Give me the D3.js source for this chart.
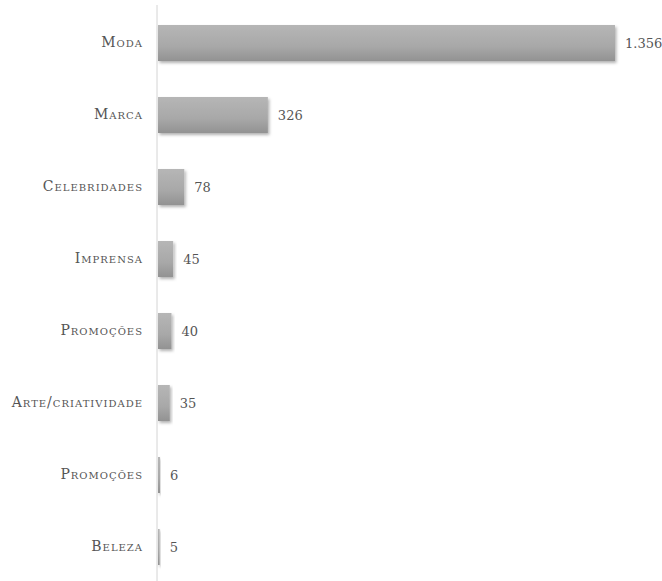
<!DOCTYPE html>
<html>
<head>
<meta charset="utf-8">
<script src="https://cdn.jsdelivr.net/npm/d3@7"></script>
<style>
  html, body { margin: 0; padding: 0; background: #fff; }
  svg { display: block; }
</style>
</head>
<body>
<svg id="chart" width="662" height="581"></svg>
<script>
// Categories and counts, top to bottom
const categories = ["Moda", "Marca", "Celebridades", "Imprensa", "Promoções", "Arte/criatividade", "Promoções ", "Beleza"];
const values = [1356, 326, 78, 45, 40, 35, 6, 5];
const valueLabels = ["1.356", "326", "78", "45", "40", "35", "6", "5"];

const svg = d3.select("#chart");
const width = 662, height = 581;
const margin = { left: 158, right: 47, top: 7, bottom: -2 };

const x = d3.scaleLinear()
  .domain([0, d3.max(values)])
  .range([margin.left, width - margin.right]);

const y = d3.scaleBand()
  .domain(categories)
  .range([margin.top, height - margin.bottom])
  .paddingInner(0.5)
  .paddingOuter(0.25);

const defs = svg.append("defs");
const grad = defs.append("linearGradient")
  .attr("id", "barGrad").attr("x1", 0).attr("y1", 0).attr("x2", 0).attr("y2", 1);
grad.append("stop").attr("offset", "0%").attr("stop-color", "#b6b6b6");
grad.append("stop").attr("offset", "60%").attr("stop-color", "#a8a8a8");
grad.append("stop").attr("offset", "100%").attr("stop-color", "#929292");

const shadow = defs.append("filter").attr("id", "shadow")
  .attr("x", "-20%").attr("y", "-20%").attr("width", "140%").attr("height", "160%");
shadow.append("feDropShadow")
  .attr("dx", 1.5).attr("dy", 2).attr("stdDeviation", 1.6)
  .attr("flood-color", "#000").attr("flood-opacity", 0.3);

const data = categories.map((c, i) => ({ cat: c, v: values[i], label: valueLabels[i] }));

// Bars
svg.append("g").selectAll("rect")
  .data(data)
  .join("rect")
  .attr("x", x(0))
  .attr("y", d => y(d.cat))
  .attr("width", d => Math.max(1, x(d.v) - x(0)))
  .attr("height", y.bandwidth())
  .attr("fill", "url(#barGrad)")
  .attr("filter", "url(#shadow)");

// Vertical category axis
const axis = d3.axisLeft(y).tickSize(0).tickPadding(14)
  .tickFormat(d => d.trim());
const gAxis = svg.append("g")
  .attr("transform", `translate(${x(0) - 1},0)`)
  .call(axis);
gAxis.select(".domain")
  .attr("stroke", "#d4d4d4")
  .attr("stroke-width", 1)
  .attr("d", `M0,5V${height}`);
gAxis.selectAll("text")
  .attr("fill", "#555")
  .style("font-family", "'DejaVu Serif', 'Liberation Serif', serif")
  .style("font-variant", "small-caps")
  .style("font-size", "14px")
  .style("letter-spacing", "1px");

// Value labels
svg.append("g").selectAll("text")
  .data(data)
  .join("text")
  .attr("x", d => x(d.v) + 10)
  .attr("y", d => y(d.cat) + y.bandwidth() / 2)
  .attr("dy", "0.35em")
  .attr("fill", "#555")
  .style("font-family", "'DejaVu Serif', 'Liberation Serif', serif")
  .style("font-size", "13px")
  .text(d => d.label);
</script>
</body>
</html>
